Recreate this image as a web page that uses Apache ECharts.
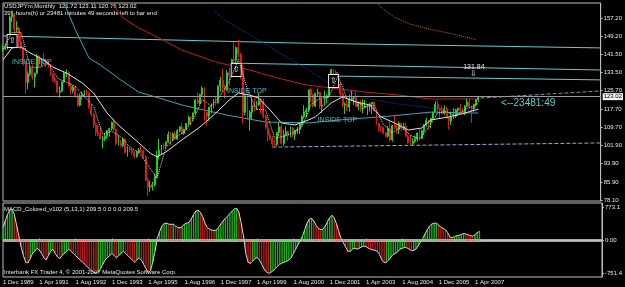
<!DOCTYPE html>
<html><head><meta charset="utf-8">
<script src="https://cdn.jsdelivr.net/npm/echarts@6/dist/echarts.min.js"></script>
<style>html,body{margin:0;padding:0;background:#000;}#c{width:625px;height:287px;}</style>
</head><body><div id="c"></div>
<script>
// ---- categories ----
const firstYear = 1989, firstMonth = 11; // Dec 1989
const totalSlots = 265;                  // chart shift leaves empty room on the right
const lastLabelIndex = 208;              // "1 Apr 2007" is the last time label shown
const monthNames = ['Jan','Feb','Mar','Apr','May','Jun','Jul','Aug','Sep','Oct','Nov','Dec'];
const categories = [];
for (let i = 0; i < totalSlots; i++) {
  const m = (firstMonth + i) % 12, y = firstYear + Math.floor((firstMonth + i) / 12);
  categories.push('1 ' + monthNames[m] + ' ' + y);
}

// ---- monthly bars [open, high, low, close] ----
const ohlc = [
[143.4,146.0,142.6,143.8],
[143.8,146.0,143.3,144.5],[144.5,150.0,143.5,149.6],[149.6,158.3,147.6,157.6],[157.6,160.4,155.5,159.1],[159.1,159.5,150.5,152.2],[152.2,155.8,150.8,152.9],[152.9,153.5,144.8,146.8],[146.8,151.0,143.5,144.2],[144.2,145.2,136.6,137.9],[137.9,138.5,124.3,129.2],[129.2,134.0,126.2,132.9],[132.9,136.5,132.0,135.4],
[135.4,137.0,130.3,131.6],[131.6,133.5,127.0,133.2],[133.2,141.6,132.8,140.6],[140.6,141.0,135.8,137.3],[137.3,139.4,136.2,138.4],[138.4,142.0,137.0,138.0],[138.0,139.5,136.0,137.6],[137.6,138.5,135.8,136.8],[136.8,137.0,132.0,132.8],[132.8,133.5,129.7,130.6],[130.6,131.8,129.0,129.9],[129.9,130.0,124.5,124.9],
[124.9,127.5,122.5,125.4],[125.4,129.8,125.0,129.4],[129.4,134.0,129.0,133.1],[133.1,134.9,131.5,133.5],[133.5,134.0,127.3,127.6],[127.6,129.0,124.0,125.6],[125.6,128.0,124.5,127.3],[127.3,127.8,122.5,123.5],[123.5,124.5,118.6,119.3],[119.3,124.5,118.8,123.4],[123.4,125.3,121.8,124.2],[124.2,125.8,122.6,124.7],
[124.7,126.1,123.5,124.6],[124.6,125.0,117.8,118.6],[118.6,120.0,114.3,115.4],[115.4,116.0,109.4,110.8],[110.8,111.5,105.8,107.5],[107.5,110.5,105.8,106.6],[106.6,110.0,104.6,104.6],[104.6,106.0,100.6,104.6],[104.6,107.3,103.8,105.7],[105.7,108.5,104.9,108.1],[108.1,109.5,105.6,109.1],[109.1,112.2,108.2,111.9],
[111.9,113.6,108.0,108.9],[108.9,109.0,101.9,102.7],[102.7,106.2,101.8,102.8],[102.8,104.2,101.2,101.8],[101.8,105.3,101.0,104.6],[104.6,105.0,98.3,98.7],[98.7,101.5,96.9,100.3],[100.3,101.2,98.9,99.9],[99.9,100.5,97.8,98.6],[98.6,99.4,96.2,97.0],[97.0,99.5,96.5,98.9],[98.9,100.7,98.3,99.7],
[99.7,101.5,98.5,99.5],[99.5,100.1,96.2,96.9],[96.9,97.4,86.2,86.8],[86.8,87.7,79.8,83.7],[83.7,86.5,81.5,84.1],[84.1,86.0,82.2,84.7],[84.7,89.5,84.0,88.3],[88.3,99.5,87.5,97.5],[97.5,104.7,95.8,99.8],[99.8,101.8,98.0,101.9],[101.9,102.8,100.0,101.7],[101.7,103.5,100.8,103.4],
[103.4,107.9,103.0,106.6],[106.6,107.6,102.0,104.8],[104.8,107.5,103.7,106.9],[106.9,108.0,104.2,104.6],[104.6,109.0,104.3,108.2],[108.2,110.3,107.5,109.9],[109.9,111.8,106.6,107.0],[107.0,109.0,106.3,108.8],[108.8,111.5,108.4,111.4],[111.4,114.8,110.5,114.1],[114.1,114.5,110.5,113.9],[113.9,116.2,112.5,115.9],
[115.9,122.0,115.5,121.5],[121.5,124.6,119.8,120.2],[120.2,124.3,119.5,124.0],[124.0,127.5,123.0,126.8],[126.8,127.2,112.6,116.2],[116.2,116.5,110.6,114.6],[114.6,118.6,112.5,118.5],[118.5,120.1,115.8,118.8],[118.8,122.0,118.0,120.7],[120.7,123.0,119.2,120.4],[120.4,128.0,120.0,127.6],[127.6,131.7,125.3,130.2],
[130.2,135.2,124.9,127.2],[127.2,128.2,122.2,126.1],[126.1,134.5,125.5,133.4],[133.4,135.5,127.6,132.1],[132.1,139.5,131.8,139.1],[139.1,146.8,134.8,138.8],[138.8,144.8,137.5,144.4],[144.4,147.7,140.3,141.5],[141.5,142.0,130.5,135.3],[135.3,136.9,111.4,116.2],[116.2,124.2,115.0,123.4],[123.4,123.8,112.9,113.6],
[113.6,117.1,108.2,116.2],[116.2,122.5,113.4,119.3],[119.3,122.6,116.6,118.7],[118.7,121.0,117.3,119.5],[119.5,124.8,119.0,121.4],[121.4,122.3,115.8,120.8],[120.8,122.2,113.5,114.5],[114.5,115.2,108.7,109.6],[109.6,111.9,103.6,106.2],[106.2,107.2,104.0,104.5],[104.5,106.0,101.3,102.4],[102.4,104.5,101.5,102.2],
[102.2,107.4,101.4,107.4],[107.4,112.2,105.7,109.9],[109.9,111.0,102.2,102.7],[102.7,108.5,101.6,106.5],[106.5,110.1,105.8,107.8],[107.8,108.3,103.9,106.2],[106.2,110.0,105.5,109.4],[109.4,109.9,105.3,106.4],[106.4,108.5,104.3,108.2],[108.2,109.9,106.8,108.8],[108.8,111.3,106.8,111.2],[111.2,115.0,110.2,114.4],
[114.4,119.3,113.6,116.4],[116.4,118.3,114.0,117.3],[117.3,126.0,116.6,126.0],[126.0,126.9,120.6,123.7],[123.7,124.3,118.3,118.9],[118.9,124.6,118.5,124.5],[124.5,126.5,123.0,124.9],[124.9,125.0,117.8,118.9],[118.9,122.0,115.8,119.4],[119.4,125.6,119.0,122.4],[122.4,124.0,120.1,123.4],[123.4,131.5,122.5,131.0],
[131.0,135.2,130.7,134.7],[134.7,135.0,131.4,133.5],[133.5,134.5,126.4,132.7],[132.7,133.8,127.3,128.5],[128.5,129.0,123.0,124.2],[124.2,125.3,118.4,119.4],[119.4,120.5,115.5,119.7],[119.7,121.5,116.8,118.5],[118.5,124.0,116.5,121.9],[121.9,125.6,121.2,122.4],[122.4,123.1,119.5,122.5],[122.5,125.6,118.7,118.8],
[118.8,121.0,117.1,119.9],[119.9,121.5,116.5,117.8],[117.8,121.8,115.8,118.1],[118.1,121.7,118.0,119.0],[119.0,119.3,115.0,119.5],[119.5,120.3,116.5,119.9],[119.9,120.5,115.5,120.6],[120.6,120.9,116.5,116.9],[116.9,117.0,110.8,111.4],[111.4,111.6,107.9,109.9],[109.9,110.3,107.7,109.6],[109.6,109.9,106.7,107.2],
[107.2,107.5,105.2,105.8],[105.8,110.3,105.2,109.1],[109.1,112.2,103.4,104.2],[104.2,110.7,103.5,110.5],[110.5,114.9,108.9,109.6],[109.6,111.3,106.9,108.8],[108.8,112.3,106.8,111.5],[111.5,111.6,108.1,109.3],[109.3,111.6,108.5,110.1],[110.1,111.8,105.7,105.8],[105.8,106.3,102.5,103.1],[103.1,106.5,101.9,102.6],
[102.6,104.9,101.7,103.6],[103.6,106.0,103.0,104.6],[104.6,107.5,103.5,107.2],[107.2,108.9,104.1,104.9],[104.9,108.8,104.5,108.2],[108.2,111.2,106.6,110.8],[110.8,113.8,110.0,112.6],[112.6,112.7,108.7,112.0],[112.0,113.8,109.3,113.5],[113.5,116.4,113.2,116.4],[116.4,121.0,116.0,119.7],[119.7,121.4,115.7,117.8],
[117.8,117.9,113.4,117.2],[117.2,119.0,115.2,115.8],[115.8,119.3,115.0,117.8],[117.8,118.7,113.5,113.9],[113.9,114.0,108.9,112.5],[112.5,116.5,110.8,114.4],[114.4,117.9,113.5,114.6],[114.6,117.7,113.8,117.2],[117.2,118.3,115.2,118.0],[118.0,119.9,116.2,116.8],[116.8,118.0,115.2,115.8],[115.8,119.4,115.0,119.0],
[119.0,122.2,118.5,120.7],[120.7,122.2,117.9,118.6],[118.6,118.8,111.6,117.8],[117.8,120.0,116.5,119.5],[119.5,121.8,118.8,121.7],[121.72,123.11,120.76,123.02]
];

// ---- MACD_Colored (5,13,1) values, points ----
const macd = [
300,450,600,700,720,600,350,100,-150,-350,-500,-520,-420,-300,-250,-180,-220,-300,-400,-450,
-350,-250,-200,-300,-380,-420,-350,-300,-250,-200,-250,-300,-350,-400,-450,-500,-550,-600,-650,-700,
-740,-750,-720,-650,-550,-450,-400,-350,-300,-350,-400,-350,-300,-250,-300,-350,-400,-450,-500,-450,
-400,-450,-550,-650,-740,-700,-500,-250,50,200,330,390,400,380,370,380,330,300,290,320,
380,400,420,500,600,680,700,650,550,400,300,260,240,230,240,300,380,450,510,560,
620,680,730,740,650,400,100,-300,-500,-530,-480,-420,-390,-450,-550,-650,-720,-760,-740,-700,
-650,-600,-550,-520,-500,-480,-450,-400,-300,-200,-100,0,100,250,400,490,510,450,350,280,
250,260,330,430,530,580,520,380,200,50,-50,-150,-250,-250,-200,-180,-200,-180,-150,-130,
-140,-180,-200,-220,-230,-250,-330,-450,-510,-500,-450,-380,-320,-300,-260,-200,-180,-160,-170,-200,
-230,-230,-200,-120,-30,50,150,250,330,380,400,400,360,300,280,250,180,80,60,90,
110,120,140,160,150,130,110,100,130,180,209.5
];

// ---- indicator lines: [bar index, price] ----
const whiteMA = [[0,139.0],[4,144.2],[8,144.6],[12,142.0],[18,139.0],[22,135.9],[28,133.3],[35,129.0],[40,124.6],[46,115.9],[50,111.6],[55,107.2],[60,102.9],[65,98.5],[68,96.8],[72,99.0],[79,104.2],[87,109.8],[94,115.9],[100,121.6],[104,124.6],[109,123.7],[113,122.4],[118,117.2],[123,111.6],[129,110.7],[135,112.9],[138,114.2],[145,120.3],[150,122.9],[156,120.7],[162,119.4],[167,114.2],[173,111.6],[179,108.5],[185,109.4],[189,112.9],[197,114.2],[204,115.9],[210,117.6]];
const dotMA = [[0,143.8],[4,150.9],[8,151.0],[12,135.9],[16,135.6],[20,137.6],[24,131.0],[28,129.3],[32,127.5],[36,123.0],[40,118.8],[44,106.8],[48,107.9],[52,105.6],[56,101.1],[60,98.8],[64,93.3],[68,87.7],[72,100.9],[76,105.3],[80,107.7],[84,112.8],[88,121.7],[92,119.0],[96,123.5],[100,129.8],[104,139.2],[108,126.0],[112,117.5],[116,117.2],[120,105.0],[124,105.7],[128,107.3],[132,109.8],[136,119.6],[140,122.2],[144,123.0],[148,132.1],[152,122.1],[156,120.8],[160,118.7],[164,119.2],[168,111.0],[172,107.4],[176,109.9],[180,106.2],[184,104.6],[188,109.7],[192,115.9],[196,116.5],[200,114.5],[204,117.4],[208,119.1],[210,120.1]];
const redMA = [[47,165.0],[53,157.2],[60,152.9],[69,148.5],[79,143.3],[94,138.1],[109,134.6],[123,130.7],[134,128.1],[145,126.8],[160,125.0],[175,123.7],[189,122.0],[210,122.0]];
const cyanMA = [[24,167.2],[27,163.7],[32,152.0],[38,139.8],[43,136.8],[52,130.3],[60,125.0],[69,122.4],[79,119.4],[99,115.0],[116,112.0],[135,111.6],[150,113.0],[170,114.5],[189,116.3],[210,115.9]];
const blueMA = [[93,160.7],[98,156.3],[113,147.6],[126,139.8],[135,134.6],[145,128.1],[160,122.4],[175,119.8],[189,118.1],[210,116.8]];
const orangeMA = [[164,165.0],[168,161.0],[173,157.5],[180,154.5],[190,152.0],[200,150.0],[209,147.8]];
const trendTop = [[0,149.4],[131,146.3],[264,144.2]];
const trendMid = [[101,137.6],[264,134.6]];
const trendLow = [[144,132.0],[264,130.3]];
const supportLine = [[119,101.1],[264,102.9]];
const upperDash = [[211,122.4],[264,125.5]];

// ---- axes ----
const priceTicks = [157.20,149.20,141.50,133.50,125.70,117.70,109.70,101.90,93.90,85.90,78.10];
const macdTicks = [773.1,0,-751.4];
const bidPrice = 123.02;

const candleData = ohlc.map(r => [r[0], r[3], r[2], r[1]]);
const macdBars = macd.map((v, i) => ({
  value: v,
  itemStyle: { color: (i > 0 && v < macd[i - 1]) ? '#b41a1a' : '#1fae1f' }
}));

const chart = echarts.init(document.getElementById('c'), null, { renderer: 'canvas' });
const txt = '#e8e8e8';
const fontFam = '"Liberation Sans", Arial, sans-serif';
const showTime = (i) => i % 16 === 0 && i <= lastLabelIndex;
function line(data, color, type, width, z) {
  return { type: 'line', xAxisIndex: 0, yAxisIndex: 0, data: data, symbol: 'none', silent: true, z: z || 3,
    lineStyle: { color: color, width: width || 1, type: type || 'solid' } };
}
function note(coord, text, color, size, align) {
  return { coord: coord, symbol: 'circle', symbolSize: 0, itemStyle: { color: 'transparent' },
    label: { show: true, formatter: text, color: color, fontSize: size, fontFamily: fontFam, position: 'inside', align: align || 'left', verticalAlign: 'middle' } };
}
function box(coord) {
  return { coord: coord, symbol: 'rect', symbolSize: [10, 13], itemStyle: { color: '#000', borderColor: '#f0f0f0', borderWidth: 1 },
    label: { show: true, formatter: '⇧', color: '#f0f0f0', fontSize: 8, position: 'inside' } };
}

chart.setOption({
  backgroundColor: '#000',
  animation: false,
  grid: [
    { left: 3, right: 22, top: 3, height: 198, show: true, borderColor: '#bdbdbd', borderWidth: 1, backgroundColor: 'transparent' },
    { left: 3, right: 22, top: 203, height: 74, show: true, borderColor: '#bdbdbd', borderWidth: 1, backgroundColor: 'transparent' }
  ],
  xAxis: [
    { type: 'category', gridIndex: 0, data: categories, boundaryGap: false, axisLine: { show: false }, axisTick: { show: false }, axisLabel: { show: false }, splitLine: { show: false } },
    { type: 'category', gridIndex: 1, data: categories, boundaryGap: false, axisLine: { show: true, lineStyle: { color: '#bdbdbd' } },
      axisTick: { show: true, length: 2, inside: true, interval: showTime, lineStyle: { color: '#bdbdbd' } },
      axisLabel: { show: true, interval: showTime, align: 'left', color: txt, fontSize: 6, fontFamily: fontFam, margin: 2, hideOverlap: false },
      splitLine: { show: false } }
  ],
  yAxis: [
    { type: 'value', gridIndex: 0, position: 'right', min: 77.67, max: 163.72, splitLine: { show: false },
      axisLine: { show: true, lineStyle: { color: '#bdbdbd' } },
      axisTick: { show: true, length: 2, customValues: priceTicks, lineStyle: { color: '#bdbdbd' } },
      axisLabel: { show: true, customValues: priceTicks, formatter: (v) => v.toFixed(2), color: txt, fontSize: 6, fontFamily: fontFam, margin: 3 } },
    { type: 'value', gridIndex: 1, position: 'right', min: -843.8, max: 865.5, splitLine: { show: false },
      axisLine: { show: true, lineStyle: { color: '#bdbdbd' } },
      axisTick: { show: true, length: 2, customValues: macdTicks, lineStyle: { color: '#bdbdbd' } },
      axisLabel: { show: true, customValues: macdTicks, formatter: (v) => v === 0 ? '0.00' : v.toFixed(1), color: txt, fontSize: 6, fontFamily: fontFam, margin: 3 } }
  ],
  series: [
    line(trendTop, '#5ccfd0', 'solid', 1, 2),
    line(trendMid, '#5ccfd0', 'solid', 1, 2),
    line(trendLow, '#5ccfd0', 'solid', 1, 2),
    line(supportLine, '#b59ad6', 'dashed', 1, 2),
    line(upperDash, '#8f87a8', 'dashed', 1, 2),
    line(cyanMA, '#3aa9ad', 'solid', 1, 3),
    line(redMA, '#c21c1c', 'solid', 1, 3),
    line(blueMA, '#2a37a8', 'dotted', 1, 3),
    line(orangeMA, '#b8652a', 'dotted', 1, 3),
    {
      type: 'candlestick', xAxisIndex: 0, yAxisIndex: 0, data: candleData, barWidth: 1.4, z: 4,
      itemStyle: { color: '#22d022', color0: '#d81c1c', borderColor: '#22d022', borderColor0: '#d81c1c', borderWidth: 1 },
      markLine: { silent: true, symbol: 'none', animation: false,
        lineStyle: { color: '#9a9a9a', width: 1, type: 'solid' },
        label: { show: true, position: 'end', formatter: bidPrice.toFixed(2), color: '#000', backgroundColor: '#f2f2f2', fontSize: 6, fontFamily: fontFam, padding: [1, 1, 0, 1], distance: 2 },
        data: [{ yAxis: bidPrice }] },
      markPoint: { silent: true, animation: false, data: [
        box([4.4, 147.2]), box([103, 134.6]), box([145.6, 129.8]),
        note([4.4, 138.1], 'INSIDE TOP', '#49b9c4', 7),
        note([98.6, 125.5], 'INSIDE TOP', '#49b9c4', 7),
        note([138.6, 112.9], 'INSIDE TOP', '#49b9c4', 7),
        note([208.1, 135.9], '131.84', '#e6e6e6', 7, 'center'),
        note([208.1, 132.9], '⇩', '#e6e6e6', 8, 'center'),
        note([220, 120.3], '<--23481:49', '#5ccfd0', 10)
      ] }
    },
    line(whiteMA, '#e0e0e0', 'solid', 1, 5),
    line(dotMA, '#e0e0e0', 'dotted', 1, 5),
    {
      type: 'bar', xAxisIndex: 1, yAxisIndex: 1, data: macdBars, barWidth: 1.4, z: 3,
      markLine: { silent: true, symbol: 'none', animation: false, label: { show: false },
        lineStyle: { color: '#a8a8a8', width: 1, type: 'solid' },
        data: [{ yAxis: 23 }, { yAxis: -23 }] }
    },
    { type: 'line', xAxisIndex: 1, yAxisIndex: 1, data: macd, symbol: 'none', z: 4, lineStyle: { color: '#d8d8d8', width: 1 } }
  ],
  graphic: [
    { type: 'text', left: 4, top: 3, style: { text: 'USDJPYm,Monthly  121.72 123.11 120.76 123.02', fill: txt, font: '6px ' + fontFam } },
    { type: 'text', left: 4, top: 10, style: { text: '391 hours(h) or 23481 minutes 49 seconds left to bar end', fill: txt, font: '6px ' + fontFam } },
    { type: 'text', left: 4, top: 206, style: { text: 'MACD_Colored_v102 (5,13,1) 209.5 0.0 0.0 209.5', fill: txt, font: '6px ' + fontFam } },
    { type: 'text', left: 4, top: 269, style: { text: 'Interbank FX Trader 4, © 2001-2007 MetaQuotes Software Corp.', fill: txt, font: '6px ' + fontFam } }
  ]
});
</script>
</body></html>
